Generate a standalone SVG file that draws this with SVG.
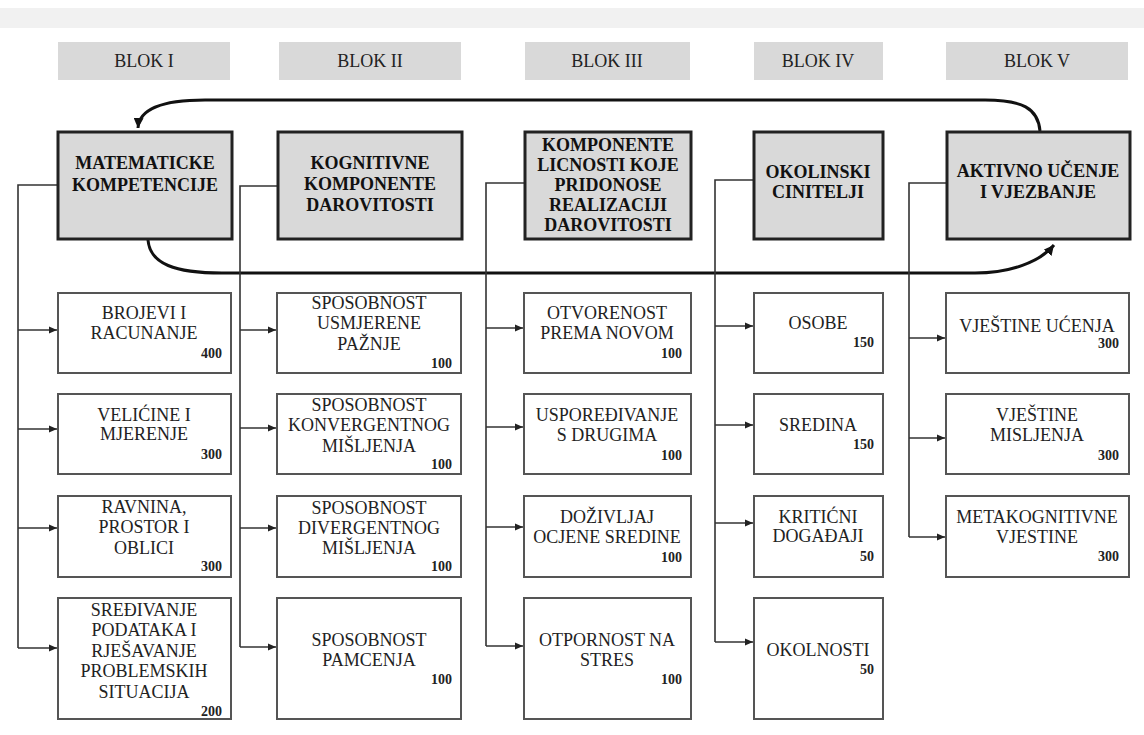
<svg xmlns="http://www.w3.org/2000/svg" width="1144" height="735" viewBox="0 0 1144 735">
<defs>
<marker id="ah" markerUnits="userSpaceOnUse" markerWidth="9" markerHeight="8" refX="8" refY="4" orient="auto"><path d="M0,0.5 L8,4 L0,7.5 z" fill="#222"/></marker>
<marker id="ahb" markerUnits="userSpaceOnUse" markerWidth="12" markerHeight="10" refX="10" refY="5" orient="auto"><path d="M0,0 L10,5 L0,10 z" fill="#111"/></marker>
<style>
text{font-family:'Liberation Serif','Times New Roman','DejaVu Serif',serif}
.hdr{fill:#d9d9d9}
.main{fill:#d9d9d9;stroke:#222;stroke-width:3}
.child{fill:#fff;stroke:#555;stroke-width:2}
.ht{font-size:18px;fill:#222;text-anchor:middle}
.mt{font-size:18px;font-weight:bold;fill:#111;text-anchor:middle}
.ct{font-size:18px;fill:#222;text-anchor:middle}
.nt{font-size:14px;font-weight:bold;fill:#222;text-anchor:end}
.con{fill:none;stroke:#333;stroke-width:1.6}
.arr{fill:none;stroke:#333;stroke-width:1.6;marker-end:url(#ah)}
.arc{fill:none;stroke:#111;stroke-width:3}
</style>
</defs>
<rect x="0" y="8" width="1144" height="20" fill="#f1f1f1"/>
<g id="headers">
<g id="blok1"><rect class="hdr" x="58" y="42" width="172" height="38"/><text class="ht" x="144" y="67">BLOK I</text></g>
<g id="blok2"><rect class="hdr" x="279" y="42" width="182" height="38"/><text class="ht" x="370" y="67">BLOK II</text></g>
<g id="blok3"><rect class="hdr" x="525" y="42" width="165" height="38"/><text class="ht" x="607" y="67">BLOK III</text></g>
<g id="blok4"><rect class="hdr" x="754" y="42" width="129" height="38"/><text class="ht" x="818" y="67">BLOK IV</text></g>
<g id="blok5"><rect class="hdr" x="946" y="42" width="182" height="38"/><text class="ht" x="1037" y="67">BLOK V</text></g>
</g>
<g id="connectors">
<path class="arc" d="M1040,131 C1038,108 1022,100 985,100 L205,100 C160,100 139,110 138,128" marker-end="url(#ahb)"/>
<path class="arc" d="M148,240 C150,264 175,273 222,273 L975,273 C1010,273 1040,262 1054,245" marker-end="url(#ahb)"/>
<path class="con" d="M58,185 H18 V648"/>
<path class="arr" d="M18,330 H57"/><path class="arr" d="M18,429 H57"/><path class="arr" d="M18,528 H57"/><path class="arr" d="M18,648 H57"/>
<path class="con" d="M278,186 H240 V647"/>
<path class="arr" d="M240,330 H276"/><path class="arr" d="M240,428 H276"/><path class="arr" d="M240,528 H276"/><path class="arr" d="M240,647 H276"/>
<path class="con" d="M525,183 H486 V646"/>
<path class="arr" d="M486,328 H523"/><path class="arr" d="M486,427 H523"/><path class="arr" d="M486,527 H523"/><path class="arr" d="M486,646 H523"/>
<path class="con" d="M754,180 H715 V642"/>
<path class="arr" d="M715,326 H753"/><path class="arr" d="M715,425 H753"/><path class="arr" d="M715,523 H753"/><path class="arr" d="M715,642 H753"/>
<path class="con" d="M947,183 H909 V537"/>
<path class="arr" d="M909,338 H945"/><path class="arr" d="M909,438 H945"/><path class="arr" d="M909,537 H945"/>
</g>
<g id="m1"><rect class="main" x="58" y="132" width="174" height="107"/><text class="mt" x="145" y="169">MATEMATICKE</text><text class="mt" x="145" y="191">KOMPETENCIJE</text></g>
<g id="m2"><rect class="main" x="278" y="132" width="184" height="107"/><text class="mt" x="370" y="169">KOGNITIVNE</text><text class="mt" x="370" y="190">KOMPONENTE</text><text class="mt" x="370" y="211">DAROVITOSTI</text></g>
<g id="m3"><rect class="main" x="525" y="132" width="166" height="107"/><text class="mt" x="608" y="151">KOMPONENTE</text><text class="mt" x="608" y="171">LICNOSTI KOJE</text><text class="mt" x="608" y="191">PRIDONOSE</text><text class="mt" x="608" y="211">REALIZACIJI</text><text class="mt" x="608" y="231">DAROVITOSTI</text></g>
<g id="m4"><rect class="main" x="754" y="132" width="129" height="107"/><text class="mt" x="818" y="178">OKOLINSKI</text><text class="mt" x="818" y="198">CINITELJI</text></g>
<g id="m5"><rect class="main" x="947" y="132" width="183" height="107"/><text class="mt" x="1038" y="177">AKTIVNO UČENJE</text><text class="mt" x="1038" y="198">I VJEZBANJE</text></g>
<g id="c1a"><rect class="child" x="58" y="293" width="173" height="80"/><text class="ct" x="144" y="319">BROJEVI I</text><text class="ct" x="144" y="339">RACUNANJE</text><text class="nt" x="222" y="358">400</text></g>
<g id="c1b"><rect class="child" x="58" y="394" width="173" height="80"/><text class="ct" x="144" y="421">VELIĆINE I</text><text class="ct" x="144" y="440">MJERENJE</text><text class="nt" x="222" y="459">300</text></g>
<g id="c1c"><rect class="child" x="58" y="496" width="173" height="81"/><text class="ct" x="144" y="513">RAVNINA,</text><text class="ct" x="144" y="533">PROSTOR I</text><text class="ct" x="144" y="554">OBLICI</text><text class="nt" x="222" y="571">300</text></g>
<g id="c1d"><rect class="child" x="58" y="598" width="173" height="121"/><text class="ct" x="144" y="616">SREĐIVANJE</text><text class="ct" x="144" y="636">PODATAKA I</text><text class="ct" x="144" y="657">RJEŠAVANJE</text><text class="ct" x="144" y="677">PROBLEMSKIH</text><text class="ct" x="144" y="698">SITUACIJA</text><text class="nt" x="222" y="716">200</text></g>
<g id="c2a"><rect class="child" x="277" y="293" width="184" height="80"/><text class="ct" x="369" y="309">SPOSOBNOST</text><text class="ct" x="369" y="329">USMJERENE</text><text class="ct" x="369" y="350">PAŽNJE</text><text class="nt" x="452" y="368">100</text></g>
<g id="c2b"><rect class="child" x="277" y="394" width="184" height="80"/><text class="ct" x="369" y="411">SPOSOBNOST</text><text class="ct" x="369" y="431">KONVERGENTNOG</text><text class="ct" x="369" y="452">MIŠLJENJA</text><text class="nt" x="452" y="469">100</text></g>
<g id="c2c"><rect class="child" x="277" y="496" width="184" height="81"/><text class="ct" x="369" y="514">SPOSOBNOST</text><text class="ct" x="369" y="534">DIVERGENTNOG</text><text class="ct" x="369" y="554">MIŠLJENJA</text><text class="nt" x="452" y="571">100</text></g>
<g id="c2d"><rect class="child" x="277" y="598" width="184" height="121"/><text class="ct" x="369" y="646">SPOSOBNOST</text><text class="ct" x="369" y="666">PAMCENJA</text><text class="nt" x="452" y="684">100</text></g>
<g id="c3a"><rect class="child" x="524" y="293" width="167" height="80"/><text class="ct" x="607" y="319">OTVORENOST</text><text class="ct" x="607" y="339">PREMA NOVOM</text><text class="nt" x="682" y="358">100</text></g>
<g id="c3b"><rect class="child" x="524" y="394" width="167" height="80"/><text class="ct" x="607" y="421">USPOREĐIVANJE</text><text class="ct" x="607" y="441">S DRUGIMA</text><text class="nt" x="682" y="460">100</text></g>
<g id="c3c"><rect class="child" x="524" y="496" width="167" height="81"/><text class="ct" x="607" y="523">DOŽIVLJAJ</text><text class="ct" x="607" y="543">OCJENE SREDINE</text><text class="nt" x="682" y="562">100</text></g>
<g id="c3d"><rect class="child" x="524" y="598" width="167" height="121"/><text class="ct" x="607" y="646">OTPORNOST NA</text><text class="ct" x="607" y="666">STRES</text><text class="nt" x="682" y="684">100</text></g>
<g id="c4a"><rect class="child" x="754" y="293" width="129" height="80"/><text class="ct" x="818" y="329">OSOBE</text><text class="nt" x="874" y="347">150</text></g>
<g id="c4b"><rect class="child" x="754" y="394" width="129" height="80"/><text class="ct" x="818" y="431">SREDINA</text><text class="nt" x="874" y="449">150</text></g>
<g id="c4c"><rect class="child" x="754" y="496" width="129" height="81"/><text class="ct" x="818" y="523">KRITIĆNI</text><text class="ct" x="818" y="542">DOGAĐAJI</text><text class="nt" x="874" y="561">50</text></g>
<g id="c4d"><rect class="child" x="754" y="598" width="129" height="121"/><text class="ct" x="818" y="656">OKOLNOSTI</text><text class="nt" x="874" y="674">50</text></g>
<g id="c5a"><rect class="child" x="946" y="293" width="183" height="80"/><text class="ct" x="1037" y="332">VJEŠTINE UĆENJA</text><text class="nt" x="1119" y="348">300</text></g>
<g id="c5b"><rect class="child" x="946" y="394" width="183" height="80"/><text class="ct" x="1037" y="421">VJEŠTINE</text><text class="ct" x="1037" y="441">MISLJENJA</text><text class="nt" x="1119" y="460">300</text></g>
<g id="c5c"><rect class="child" x="946" y="496" width="183" height="81"/><text class="ct" x="1037" y="523">METAKOGNITIVNE</text><text class="ct" x="1037" y="543">VJESTINE</text><text class="nt" x="1119" y="561">300</text></g>
</svg>
